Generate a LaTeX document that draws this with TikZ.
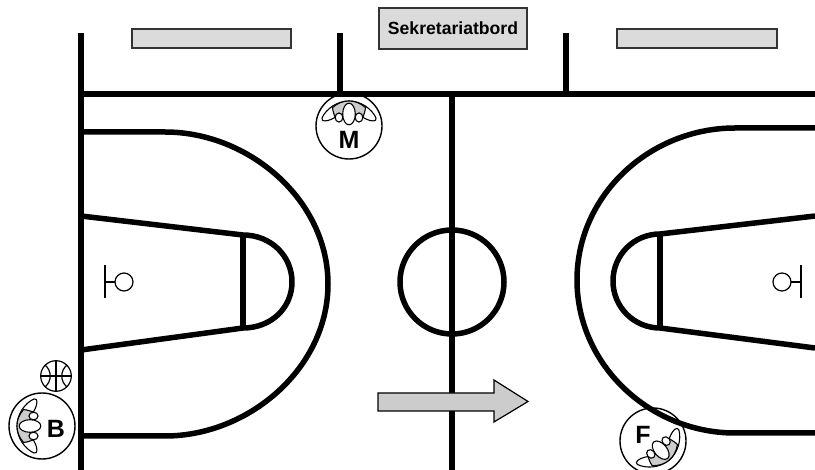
\documentclass[tikz,border=0pt]{standalone}
\usepackage{fontspec}
\setmainfont{Liberation Sans}
\tikzset{
  court/.style={line width=5.5pt,line cap=butt,line join=round},
  thin line/.style={line width=1.2pt},
  table box/.style={draw=black!80,line width=1.2pt,fill=black!14},
  arrow shape/.style={draw=black,line width=1.2pt,fill=black!20},
  ring/.style={draw=black,line width=1.4pt,fill=white},
  figure line/.style={draw=black,line width=1.1pt},
  label/.style={font=\bfseries\fontsize{25}{25}\selectfont,inner sep=0pt},
}
\newcommand{\playerfigure}[2]{%
  \begin{scope}[shift={(#1)},rotate=#2]
    \path[figure line,fill=white]
      (-27,-8) .. controls (-23,-17) and (-12,-25) .. (0,-25)
      .. controls (12,-25) and (23,-17) .. (27,-8)
      .. controls (28,-4) and (22,-4.5) .. (17,-7)
      .. controls (12,-10) and (6,-12) .. (0,-12)
      .. controls (-6,-12) and (-12,-10) .. (-17,-7)
      .. controls (-22,-4.5) and (-28,-4) .. (-27,-8) -- cycle;
    \path[figure line,fill=black!20]
      (-16.5,-18.5) .. controls (-11,-23) and (-6,-25) .. (0,-25)
      .. controls (6,-25) and (11,-23) .. (16.5,-18.5)
      .. controls (16,-14) and (15,-12) .. (14,-9)
      .. controls (8,-13) and (-8,-13) .. (-14,-9)
      .. controls (-15,-12) and (-16,-14) .. (-16.5,-18.5) -- cycle;
    \path[figure line,fill=white] (-10,-8.5) ellipse [x radius=3.8,y radius=4.6];
    \path[figure line,fill=white] (10,-8.5) ellipse [x radius=3.8,y radius=4.6];
    \path[figure line,fill=white] (0,-12) ellipse [x radius=6.3,y radius=10.8];
  \end{scope}}
\begin{document}
\begin{tikzpicture}[x=1pt,y=-1pt]
\useasboundingbox (0,0) rectangle (815,470);
% tables
\node[table box,minimum width=159pt,minimum height=19pt,inner sep=0pt] (tableL) at (211.5,38.5) {};
\node[table box,minimum width=160pt,minimum height=19pt,inner sep=0pt] (tableR) at (697,38.5) {};
\node[table box,minimum width=148pt,minimum height=41pt,inner sep=0pt,font=\bfseries\fontsize{17.6}{17.6}\selectfont] (secretary) at (453,28.5) {Sekretariatbord};
% players (under court lines)
\path[ring] (349,126) circle [radius=33];
\playerfigure{349,126}{0}
\node[label] (M) at (349,140) {M};
\path[ring] (653,441) circle [radius=33];
\playerfigure{653,441}{-140}
\node[label] (F) at (643,435) {F};
\path[ring] (42,426) circle [radius=33];
\playerfigure{42,426}{90}
\node[label] (B) at (56,429) {B};
% ball
\path[thin line,draw,fill=white] (56,376) circle [radius=15.3];
\draw[thin line] (40.7,376) -- (71.3,376) (56,360.7) -- (56,391.3);
\draw[thin line] (45,365) .. controls (52,371) and (52,381) .. (45,387);
\draw[thin line] (67,365) .. controls (60,371) and (60,381) .. (67,387);
% court lines
\draw[court] (81,33) -- (81,470);
\draw[court] (78.5,94) -- (815,94);
\draw[court] (340,33) -- (340,94);
\draw[court] (566,33) -- (566,94);
\draw[court] (452,94) -- (452,470);
\draw[court] (452,282) circle [radius=52];
% left half
\draw[court] (81,132) -- (165,132) .. controls (249,132) and (328,200) .. (328,284)
  .. controls (328,368) and (249,436) .. (165,436) -- (81,436);
\draw[court] (81,216) -- (243,235) (81,350) -- (243,328);
\draw[court] (243,235) -- (243,328);
\draw[court] (243,235) .. controls (271,235) and (292,256) .. (292,282)
  .. controls (292,308) and (271,328) .. (243,328);
% right half
\draw[court] (815,128) -- (735,128) .. controls (650,128) and (577,195) .. (577,280)
  .. controls (577,365) and (650,433) .. (735,433) -- (815,433);
\draw[court] (815,216) -- (660,234) (815,348) -- (660,328);
\draw[court] (660,234) -- (660,328);
\draw[court] (660,234) .. controls (634,234) and (613,255) .. (613,281)
  .. controls (613,307) and (634,328) .. (660,328);
% hoops
\draw[thin line] (105,265) -- (105,298) (105,282) -- (115,282);
\draw[thin line] (124,282) circle [radius=9];
\draw[thin line] (801,265) -- (801,298) (801,282) -- (791,282);
\draw[thin line] (782,282) circle [radius=9];
% direction arrow
\path[arrow shape] (378,393) -- (494,393) -- (494,380) -- (528,401.5) -- (494,422) -- (494,411) -- (378,411) -- cycle;
\end{tikzpicture}
\end{document}
